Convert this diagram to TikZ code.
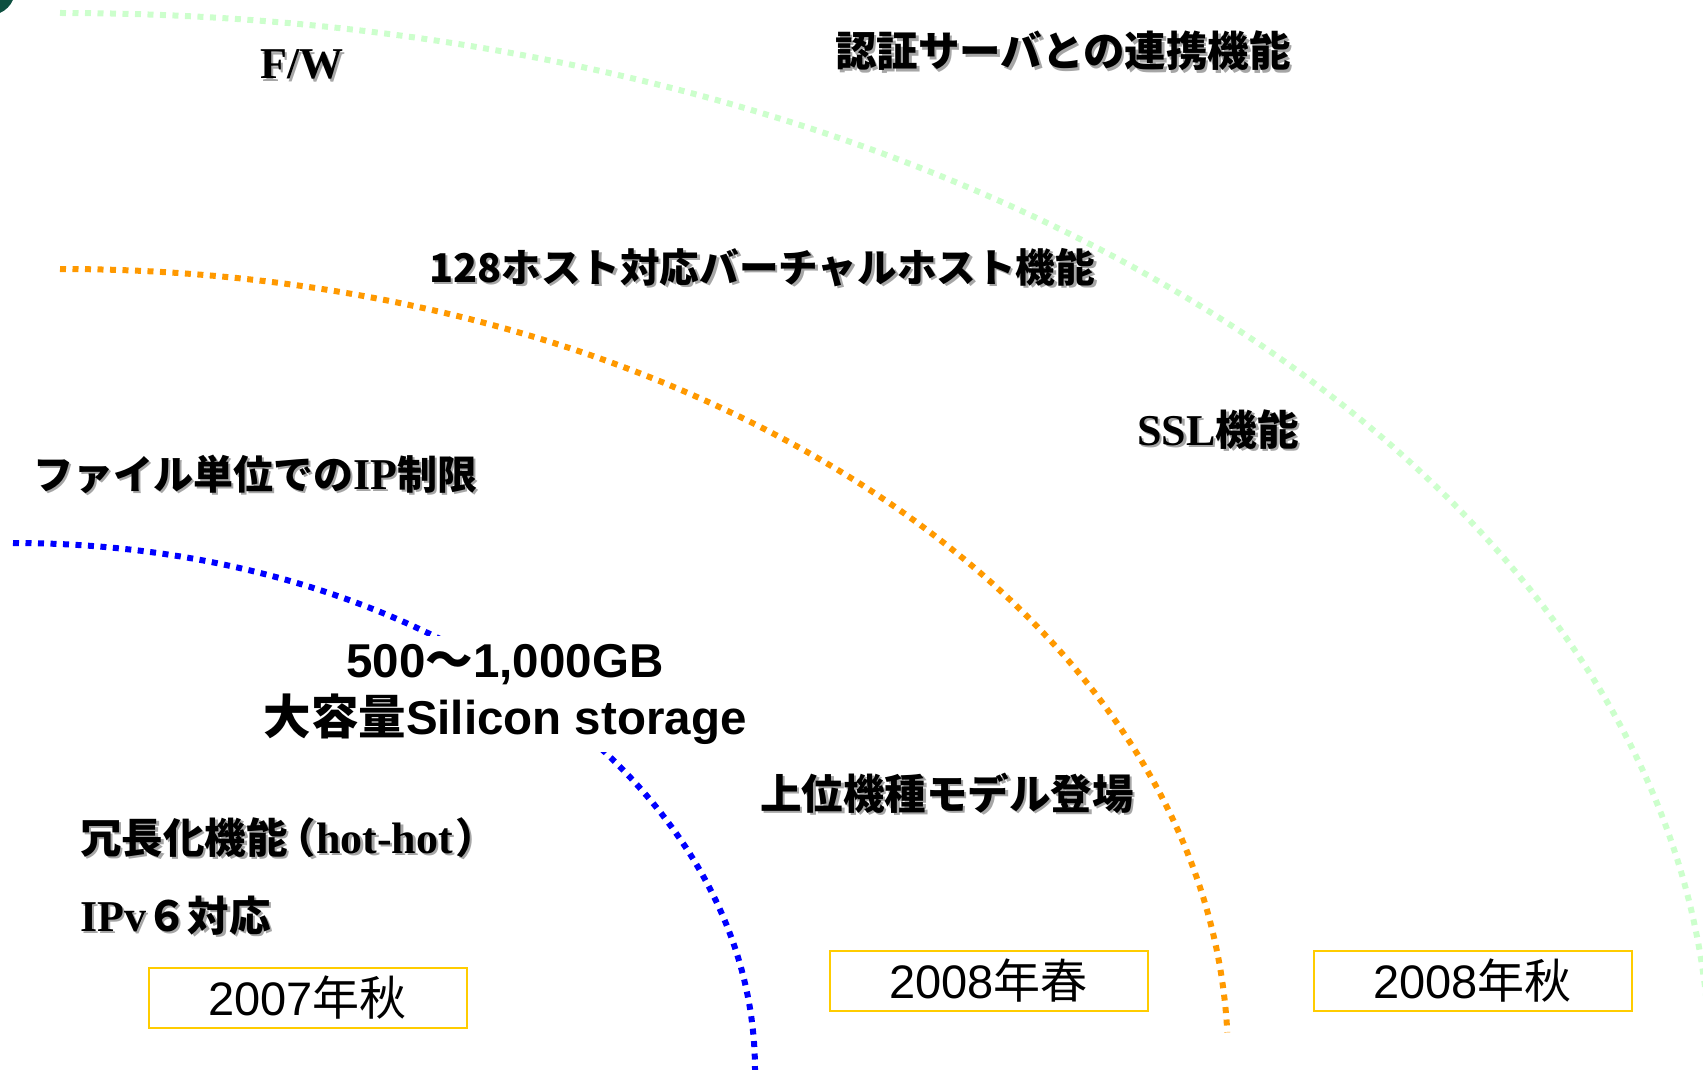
\documentclass[tikz,border=0pt]{standalone}
\usepackage{fontspec}
\setmainfont{Liberation Serif}
\newfontfamily\jp{Noto Sans CJK JP}
\newfontfamily\ser{Liberation Serif}
\newfontfamily\san{Liberation Sans}
\definecolor{arcgreen}{HTML}{CCFFCC}
\definecolor{arcorange}{HTML}{FF9900}
\definecolor{arcblue}{HTML}{0000FF}
\definecolor{boxyellow}{HTML}{FFCC00}
\definecolor{cornergreen}{HTML}{0E5040}
\newcommand\shd[1]{\makebox[0pt][l]{\hspace{2.5pt}\raisebox{-2.5pt}{\color{black!35}#1}}#1}
\newcommand\lat[1]{{\fontsize{44}{48}\selectfont\ser #1}}
\begin{document}
\begin{tikzpicture}[x=1pt,y=-1pt,
  arcline/.style={line width=6pt, dash pattern=on 6pt off 6.5pt},
  lbl/.style={inner sep=0pt, anchor=base west, font=\fontsize{41.5}{48}\selectfont\jp\bfseries},
  datebox/.style={draw=boxyellow, line width=2pt, inner sep=0pt, minimum width=318pt, minimum height=60pt, font=\fontsize{47}{52}\selectfont},
  bigtxt/.style={fill=white, inner sep=8pt, align=center, font=\fontsize{47.5}{57}\selectfont\san\bfseries}]
\useasboundingbox (0,0) rectangle (1703,1070);
\begin{scope}
\clip (0,0) rectangle (1703,1070);
\fill[cornergreen] (-10,-10) circle[radius=25pt];
\draw[arcline, arcgreen] (60,13) arc[start angle=90, end angle=0, x radius=1650pt, y radius=1057pt];
\draw[arcline, arcorange] (60,269) arc[start angle=90, end angle=2, x radius=1168pt, y radius=791pt];
\draw[arcline, arcblue] (13,543) arc[start angle=90, end angle=0, x radius=742pt, y radius=527pt];
\end{scope}

\node[lbl] (fw) at (260,79) {\shd{\lat{F/W}}};
\node[lbl] (auth) at (835,67) {\shd{認証サーバとの連携機能}};
\node[lbl, font=\fontsize{39.6}{48}\selectfont\jp\bfseries] (vhost) at (429,282) {\shd{128ホスト対応バーチャルホスト機能}};
\node[lbl, font=\fontsize{40}{48}\selectfont\jp\bfseries] (ipfile) at (33,489) {\shd{ファイル単位での\lat{IP}制限}};
\node[lbl] (ssl) at (1137,445) {\shd{\lat{SSL}機能}};
\node[bigtxt] (storage) at (505,694) {500{\jp ～}1,000GB\\{\jp 大容量}Silicon storage};
\node[lbl] (upper) at (760,809) {\shd{上位機種モデル登場}};
\node[lbl] (redund) at (80,853) {\shd{冗長化機能\hspace{-13pt}（\lat{hot-hot}\hspace{2pt}）}};
\node[lbl] (ipv6) at (80,931) {\shd{\lat{IPv}６対応}};

\node[datebox] (d1) at (307.5,997.5) {{\san 2007}{\jp 年秋}};
\node[datebox] (d2) at (988.5,981) {{\san 2008}{\jp 年春}};
\node[datebox] (d3) at (1472.5,981) {{\san 2008}{\jp 年秋}};
\end{tikzpicture}
\end{document}
